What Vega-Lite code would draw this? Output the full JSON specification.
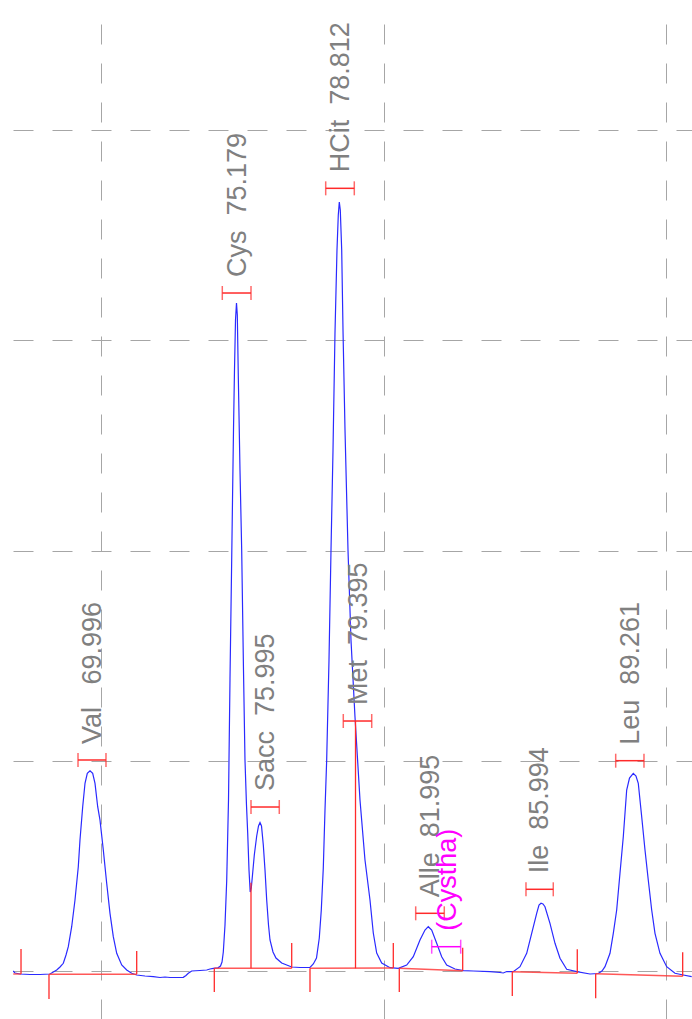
{
  "$schema": "https://vega.github.io/schema/vega-lite/v6.json",
  "width": 679,
  "height": 1008,
  "autosize": {"type": "none"},
  "padding": {"left": 13, "top": 11, "right": 0, "bottom": 0},
  "background": "white",
  "config": {
    "view": {"stroke": null},
    "axis": {"labels": false, "ticks": false, "domain": false, "grid": true, "gridDash": [20, 19], "gridColor": "#a6a6a6", "gridWidth": 1, "title": null}
  },
  "datasets": {
    "trace": [
      {"t": 66.872, "s": 0}, {"t": 66.943, "s": -0.95}, {"t": 67.12, "s": -1.43}, {"t": 67.474, "s": -1.66}, {"t": 67.829, "s": -1.66}, {"t": 68.183, "s": -1.43},
      {"t": 68.42, "s": 0.48}, {"t": 68.537, "s": 1.9}, {"t": 68.654, "s": 3.66}, {"t": 68.75, "s": 7.61}, {"t": 68.831, "s": 11.56}, {"t": 68.951, "s": 21.07},
      {"t": 69.068, "s": 33.77}, {"t": 69.185, "s": 49.61}, {"t": 69.245, "s": 62.31}, {"t": 69.341, "s": 78.14}, {"t": 69.423, "s": 89.27}, {"t": 69.504, "s": 94.03},
      {"t": 69.6, "s": 95.26}, {"t": 69.695, "s": 94.03}, {"t": 69.777, "s": 89.27}, {"t": 69.872, "s": 78.14}, {"t": 69.954, "s": 71.77}, {"t": 70.071, "s": 57.55},
      {"t": 70.191, "s": 41.71}, {"t": 70.308, "s": 27.44}, {"t": 70.425, "s": 16.31}, {"t": 70.546, "s": 8.42}, {"t": 70.723, "s": 2.85}, {"t": 70.9, "s": 0.48},
      {"t": 71.077, "s": -1.09}, {"t": 71.254, "s": -1.9}, {"t": 71.548, "s": -2.38}, {"t": 71.842, "s": -2.71}, {"t": 72.079, "s": -3.09}, {"t": 72.256, "s": -2.85},
      {"t": 72.434, "s": -3.09}, {"t": 72.905, "s": -3.0}, {"t": 73.0, "s": -2.14}, {"t": 73.082, "s": -1.09}, {"t": 73.202, "s": 0}, {"t": 73.496, "s": 0.24},
      {"t": 73.734, "s": 0.48}, {"t": 73.85, "s": 0.95}, {"t": 73.967, "s": 1.28}, {"t": 74.134, "s": 1.52}, {"t": 74.222, "s": 2.38}, {"t": 74.276, "s": 4.28},
      {"t": 74.322, "s": 9.04}, {"t": 74.382, "s": 21.88}, {"t": 74.442, "s": 42.81}, {"t": 74.506, "s": 81.33}, {"t": 74.559, "s": 138.88}, {"t": 74.619, "s": 195.48},
      {"t": 74.648, "s": 224.02}, {"t": 74.683, "s": 257.31}, {"t": 74.718, "s": 285.85}, {"t": 74.754, "s": 309.63}, {"t": 74.789, "s": 317.71}, {"t": 74.818, "s": 312.0},
      {"t": 74.853, "s": 282.99}, {"t": 74.913, "s": 238.28}, {"t": 74.973, "s": 200.24}, {"t": 75.037, "s": 143.16}, {"t": 75.09, "s": 100.36}, {"t": 75.143, "s": 78.95},
      {"t": 75.186, "s": 65.63}, {"t": 75.232, "s": 48.04}, {"t": 75.275, "s": 37.58}, {"t": 75.313, "s": 39.48}, {"t": 75.356, "s": 45.66}, {"t": 75.42, "s": 55.17},
      {"t": 75.505, "s": 64.21}, {"t": 75.569, "s": 68.96}, {"t": 75.622, "s": 70.63}, {"t": 75.675, "s": 68.96}, {"t": 75.739, "s": 59.93}, {"t": 75.799, "s": 48.04},
      {"t": 75.859, "s": 33.77}, {"t": 75.923, "s": 21.88}, {"t": 75.976, "s": 14.74}, {"t": 76.082, "s": 9.04}, {"t": 76.188, "s": 6.18}, {"t": 76.39, "s": 3.8},
      {"t": 76.745, "s": 1.9}, {"t": 77.039, "s": 1.66}, {"t": 77.393, "s": 1.66}, {"t": 77.51, "s": 3.33}, {"t": 77.623, "s": 6.18}, {"t": 77.722, "s": 15.7},
      {"t": 77.793, "s": 29.01}, {"t": 77.864, "s": 48.99}, {"t": 77.924, "s": 76.57}, {"t": 77.984, "s": 100.36}, {"t": 78.066, "s": 147.92}, {"t": 78.137, "s": 200.24},
      {"t": 78.208, "s": 247.8}, {"t": 78.278, "s": 303.45}, {"t": 78.349, "s": 342.92}, {"t": 78.395, "s": 359.57}, {"t": 78.431, "s": 365.75}, {"t": 78.466, "s": 361.94},
      {"t": 78.516, "s": 342.92}, {"t": 78.562, "s": 304.87}, {"t": 78.633, "s": 257.31}, {"t": 78.739, "s": 200.24}, {"t": 78.845, "s": 157.43}, {"t": 78.987, "s": 120.81},
      {"t": 79.164, "s": 81.33}, {"t": 79.341, "s": 52.79}, {"t": 79.518, "s": 33.77}, {"t": 79.635, "s": 18.07}, {"t": 79.756, "s": 8.56}, {"t": 79.933, "s": 3.8},
      {"t": 80.227, "s": 1.57}, {"t": 80.521, "s": 1.28}, {"t": 80.818, "s": 2.85}, {"t": 81.052, "s": 6.8}, {"t": 81.289, "s": 14.74}, {"t": 81.466, "s": 19.5},
      {"t": 81.583, "s": 21.07}, {"t": 81.704, "s": 19.5}, {"t": 81.881, "s": 13.17}, {"t": 82.058, "s": 6.8}, {"t": 82.235, "s": 2.85}, {"t": 82.529, "s": 0.95},
      {"t": 82.823, "s": 0.14}, {"t": 83.177, "s": 0}, {"t": 83.769, "s": -0.33}, {"t": 84.123, "s": -0.71}, {"t": 84.24, "s": -0.95}, {"t": 84.361, "s": -0.24},
      {"t": 84.594, "s": -0.33}, {"t": 84.832, "s": 2.05}, {"t": 85.069, "s": 8.42}, {"t": 85.246, "s": 17.93}, {"t": 85.423, "s": 27.44}, {"t": 85.505, "s": 31.39},
      {"t": 85.576, "s": 32.2}, {"t": 85.646, "s": 31.87}, {"t": 85.717, "s": 30.58}, {"t": 85.894, "s": 22.69}, {"t": 86.072, "s": 13.17}, {"t": 86.249, "s": 6.04},
      {"t": 86.486, "s": 0.81}, {"t": 86.84, "s": -0.33}, {"t": 87.311, "s": -1.43}, {"t": 87.605, "s": -1.19}, {"t": 87.736, "s": 0}, {"t": 87.843, "s": 2.05},
      {"t": 88.02, "s": 8.42}, {"t": 88.137, "s": 17.93}, {"t": 88.257, "s": 29.01}, {"t": 88.374, "s": 46.47}, {"t": 88.491, "s": 63.88}, {"t": 88.611, "s": 86.09},
      {"t": 88.711, "s": 91.79}, {"t": 88.845, "s": 94.03}, {"t": 88.941, "s": 92.75}, {"t": 89.022, "s": 89.27}, {"t": 89.143, "s": 73.39}, {"t": 89.26, "s": 57.55},
      {"t": 89.376, "s": 43.28}, {"t": 89.497, "s": 29.01}, {"t": 89.614, "s": 17.93}, {"t": 89.791, "s": 8.42}, {"t": 90.028, "s": 2.05}, {"t": 90.322, "s": -1.09},
      {"t": 90.616, "s": -1.9}, {"t": 90.914, "s": -2.71}
    ],
    "baselines": [
      {"t1": 66.88, "b1": -1.43, "t2": 67.156, "b2": -1.43},
      {"t1": 68.147, "b1": -1.57, "t2": 71.254, "b2": -1.57},
      {"t1": 74.003, "b1": 1.28, "t2": 76.745, "b2": 1.28},
      {"t1": 77.393, "b1": 1.28, "t2": 80.344, "b2": 1.43},
      {"t1": 80.556, "b1": 1.28, "t2": 82.802, "b2": 0.14},
      {"t1": 84.559, "b1": -0.33, "t2": 86.861, "b2": -1.09},
      {"t1": 87.513, "b1": -1.28, "t2": 90.595, "b2": -2.52}
    ],
    "marks": [
      {"t": 67.156, "b1": -1.43, "b2": 10.46},
      {"t": 68.147, "b1": -1.57, "b2": -13.32},
      {"t": 71.254, "b1": -1.57, "b2": 9.51},
      {"t": 74.003, "b1": 1.28, "b2": -9.99},
      {"t": 76.745, "b1": 1.28, "b2": 13.32},
      {"t": 77.393, "b1": 1.28, "b2": -9.99},
      {"t": 80.344, "b1": 1.43, "b2": 13.32},
      {"t": 80.556, "b1": 1.28, "b2": -9.99},
      {"t": 82.802, "b1": 0.14, "b2": 11.08},
      {"t": 84.559, "b1": -0.33, "b2": -11.89},
      {"t": 86.861, "b1": -1.09, "b2": 10.32},
      {"t": 87.513, "b1": -1.28, "b2": -12.98},
      {"t": 90.595, "b1": -2.52, "b2": 8.89},
      {"t": 75.303, "b1": 1.28, "b2": 42.0},
      {"t": 79.005, "b1": 1.28, "b2": 118.9}
    ],
    "peaks": [
      {"label": "Val\u00a0\u00a0\u00a069.996", "x1": 69.175, "x2": 70.166, "yb": 100.36, "status": "main"},
      {"label": "Cys\u00a0\u00a075.179", "x1": 74.286, "x2": 75.303, "yb": 322.47, "status": "main"},
      {"label": "Sacc\u00a0\u00a075.995", "x1": 75.303, "x2": 76.305, "yb": 78.0, "status": "main"},
      {"label": "HCit\u00a0\u00a078.812", "x1": 77.949, "x2": 78.962, "yb": 372.26, "status": "main"},
      {"label": "Met\u00a0\u00a079.395", "x1": 78.572, "x2": 79.579, "yb": 118.9, "status": "main"},
      {"label": "Alle\u00a0\u00a081.995", "x1": 81.137, "x2": 82.15, "yb": 27.44, "status": "main"},
      {"label": "(Cystha)", "x1": 81.704, "x2": 82.731, "yb": 11.56, "status": "alt"},
      {"label": "Ile\u00a0\u00a085.994", "x1": 85.044, "x2": 86.011, "yb": 38.86, "status": "main"},
      {"label": "Leu\u00a0\u00a089.261", "x1": 88.222, "x2": 89.224, "yb": 100.03, "status": "main"}
    ]
  },
  "layer": [
    {
      "data": {"name": "trace"},
      "mark": {"type": "line", "color": "#2a2aff", "strokeWidth": 1.2, "clip": true},
      "encoding": {
        "x": {"field": "t", "type": "quantitative", "title": null, "scale": {"domain": [66.872, 90.925], "nice": false, "zero": false}, "axis": {"orient": "top", "values": [70, 80, 90]}},
        "y": {"field": "s", "type": "quantitative", "title": null, "scale": {"domain": [-22.83, 456.6], "nice": false, "zero": false}, "axis": {"orient": "left", "values": [0, 100, 200, 300, 400]}}
      }
    },
    {
      "data": {"name": "baselines"},
      "mark": {"type": "rule", "color": "#ff3b3b", "strokeWidth": 1.4, "opacity": 0.85},
      "encoding": {
        "x": {"field": "t1", "type": "quantitative", "title": null},
        "y": {"field": "b1", "type": "quantitative", "title": null},
        "x2": {"field": "t2"},
        "y2": {"field": "b2"}
      }
    },
    {
      "data": {"name": "marks"},
      "mark": {"type": "rule", "color": "#ff2a2a", "strokeWidth": 1.3},
      "encoding": {
        "x": {"field": "t", "type": "quantitative", "title": null},
        "y": {"field": "b1", "type": "quantitative", "title": null},
        "y2": {"field": "b2"}
      }
    },
    {
      "data": {"name": "peaks"},
      "mark": {"type": "rule", "strokeWidth": 1.5},
      "encoding": {
        "x": {"field": "x1", "type": "quantitative", "title": null},
        "x2": {"field": "x2"},
        "y": {"field": "yb", "type": "quantitative", "title": null},
        "color": {"condition": {"test": "datum.status === 'alt'", "value": "#ff00ff"}, "value": "#ff2a2a"}
      }
    },
    {
      "data": {"name": "peaks"},
      "mark": {"type": "tick", "orient": "vertical", "size": 14, "thickness": 1.5},
      "encoding": {
        "x": {"field": "x1", "type": "quantitative", "title": null},
        "y": {"field": "yb", "type": "quantitative", "title": null},
        "color": {"condition": {"test": "datum.status === 'alt'", "value": "#ff00ff"}, "value": "#ff2a2a"}
      }
    },
    {
      "data": {"name": "peaks"},
      "mark": {"type": "tick", "orient": "vertical", "size": 14, "thickness": 1.5},
      "encoding": {
        "x": {"field": "x2", "type": "quantitative", "title": null},
        "y": {"field": "yb", "type": "quantitative", "title": null},
        "color": {"condition": {"test": "datum.status === 'alt'", "value": "#ff00ff"}, "value": "#ff2a2a"}
      }
    },
    {
      "data": {"name": "peaks"},
      "mark": {"type": "text", "angle": 270, "align": "left", "baseline": "alphabetic", "dx": 16, "dy": -5, "fontSize": 27, "font": "Liberation Sans"},
      "encoding": {
        "x": {"field": "x2", "type": "quantitative", "title": null},
        "y": {"field": "yb", "type": "quantitative", "title": null},
        "text": {"field": "label"},
        "color": {"condition": {"test": "datum.status === 'alt'", "value": "#ff00ff"}, "value": "#808080"}
      }
    }
  ]
}
